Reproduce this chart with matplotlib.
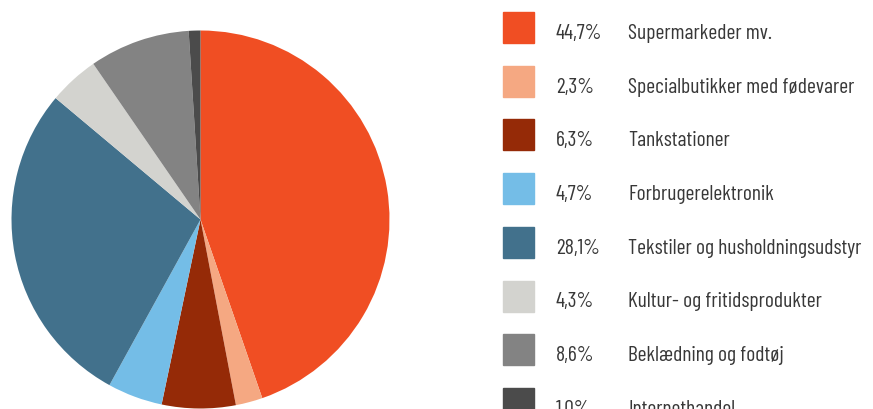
import matplotlib.pyplot as plt

labels = ["Supermarkeder mv.", "Specialbutikker med fødevarer", "Tankstationer",
          "Forbrugerelektronik", "Tekstiler og husholdningsudstyr",
          "Kultur- og fritidsprodukter", "Beklædning og fodtøj", "Internethandel"]
shares = [44.7, 2.3, 6.3, 4.7, 28.1, 4.3, 8.6, 1.0]
pct_labels = ["44,7%", "2,3%", "6,3%", "4,7%", "28,1%", "4,3%", "8,6%", "1,0%"]
colors = ["#F04E23", "#F5A882", "#952A07", "#74BDE7", "#42718C",
          "#D3D3CF", "#838383", "#4B4B4B"]

font = ["Barlow Condensed", "DejaVu Sans"]

W, H = 873, 410
fig = plt.figure(figsize=(W / 100, H / 100), dpi=100)

ax = fig.add_axes([11.5 / W, 0.5 / H, 378 / W, 378 / H])
ax.pie(shares, colors=colors, startangle=90, counterclock=False,
       wedgeprops=dict(linewidth=0))
ax.set_xlim(-1, 1)
ax.set_ylim(-1, 1)
ax.set_aspect("equal")
ax.axis("off")

# legend rows: square, percentage, label
step = 53.7
for i in range(len(labels)):
    top = 13 + step * i
    fig.patches.append(plt.Rectangle((503 / W, 1 - (top + 31) / H), 31 / W, 31 / H,
                                     transform=fig.transFigure, color=colors[i]))
    y = 1 - (39 + step * i) / H
    fig.text(556 / W, y, pct_labels[i], fontsize=15.5, family=font, color="#383838", va="baseline")
    fig.text(628 / W, y, labels[i], fontsize=15.5, family=font, color="#383838", va="baseline")

fig.savefig("out.png", dpi=100)
